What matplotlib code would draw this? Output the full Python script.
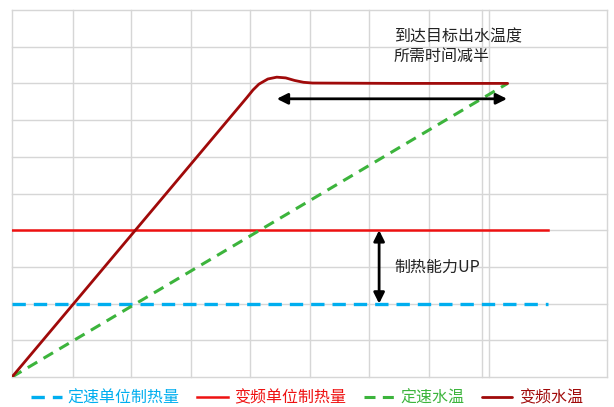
import matplotlib
matplotlib.use("Agg")
import matplotlib.pyplot as plt

plt.rcParams['font.family'] = ['Noto Sans CJK SC', 'DejaVu Sans']

# Data (x in grid units, y in grid units)
cap_fixed_x = [0, 9]
cap_fixed_y = [2, 2]
cap_inv_x = [0, 9]
cap_inv_y = [4, 4]
temp_fixed_x = [0, 8.33]
temp_fixed_y = [0, 8.0]
temp_inv_x = [0, 3.95, 4.05, 4.15, 4.3, 4.45, 4.6, 4.75, 4.9, 5.05, 6.5, 8.33]
temp_inv_y = [0, 7.62, 7.82, 7.98, 8.12, 8.17, 8.15, 8.08, 8.03, 8.01, 8.0, 8.0]

labels = ['定速单位制热量', '变频单位制热量', '定速水温', '变频水温']
colors = ['#00AEEF', '#EE1111', '#3CB43C', '#A00A0A']

xgrid = [0, 1.02, 2, 3, 4, 5, 6, 7, 7.9, 8.02, 10]
ygrid = list(range(0, 11))

fig = plt.figure(figsize=(6.14, 4.07), dpi=100)
ax = fig.add_axes([12/614, 30/407, 595/614, 367/407])
ax.set_xlim(0, 10)
ax.set_ylim(0, 10)
for s in ax.spines.values():
    s.set_visible(False)
ax.set_xticks([])
ax.set_yticks([])
for gx in xgrid:
    ax.axvline(gx, color='#D6D6D6', lw=1.0, zorder=0, clip_on=False)
for gy in ygrid:
    ax.axhline(gy, color='#D6D6D6', lw=1.0, zorder=0, clip_on=False)

l1, = ax.plot(cap_fixed_x, cap_fixed_y, color=colors[0], lw=2.4, dashes=(4.0, 2.4), zorder=3)
l2, = ax.plot(cap_inv_x, cap_inv_y, color=colors[1], lw=1.8, zorder=3)
l3, = ax.plot(temp_fixed_x, temp_fixed_y, color=colors[2], lw=2.2, dashes=(3.6, 2.4), zorder=3)
l4, = ax.plot(temp_inv_x, temp_inv_y, color=colors[3], lw=2.0, zorder=4, solid_capstyle='round')

# arrows
ax.annotate('', xy=(4.45, 7.58), xytext=(8.32, 7.58),
            arrowprops=dict(arrowstyle='<|-|>', color='black', lw=2.0, mutation_scale=16,
                            shrinkA=0, shrinkB=0), zorder=5)
ax.annotate('', xy=(6.17, 4.0), xytext=(6.17, 2.0),
            arrowprops=dict(arrowstyle='<|-|>', color='black', lw=2.0, mutation_scale=16,
                            shrinkA=0, shrinkB=0), zorder=5)

ax.text(6.42, 9.0, '到达目标出水温度\n所需时间减半', fontsize=11.5, color='#222222',
        ha='left', va='center', linespacing=1.2)
ax.text(6.42, 2.98, '制热能力UP', fontsize=11.5, color='#222222', ha='left', va='center')

leg = fig.legend([l1, l2, l3, l4], labels, loc='center', bbox_to_anchor=(0.5, 9/407),
                 ncol=4, frameon=False, fontsize=11.5, handlelength=1.9,
                 handletextpad=0.4, columnspacing=1.1, borderaxespad=0)
for t, c in zip(leg.get_texts(), colors):
    t.set_color(c)

fig.savefig('out.png', dpi=100)
